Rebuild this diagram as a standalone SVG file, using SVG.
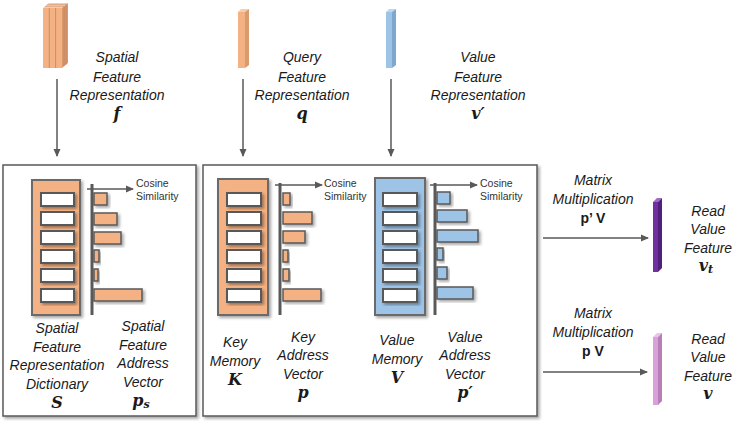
<svg xmlns="http://www.w3.org/2000/svg" width="741" height="421" viewBox="0 0 741 421">
<defs>
<filter id="sh" x="-20%" y="-20%" width="150%" height="150%"><feDropShadow dx="2" dy="2" stdDeviation="1.5" flood-color="#000" flood-opacity="0.35"/></filter>
<marker id="ah" markerWidth="8" markerHeight="8" refX="7" refY="4" orient="auto" markerUnits="userSpaceOnUse"><path d="M0,0.5 L8,4 L0,7.5 Z" fill="#595959"/></marker>
</defs>
<style>
.lbl{font-family:"Liberation Sans",Arial,sans-serif;font-style:italic;font-size:14px;fill:#1a1a1a;text-anchor:middle}
.m{font-family:"DejaVu Serif","Liberation Serif",serif;font-style:italic;font-weight:bold;font-size:16px;fill:#1a1a1a;text-anchor:middle}
.mb{font-family:"Liberation Sans",Arial,sans-serif;font-weight:bold;font-size:14px;fill:#1a1a1a;text-anchor:middle}
.cs{font-family:"Liberation Sans",Arial,sans-serif;font-size:10.5px;fill:#333}
.frame{fill:#fff;stroke:#595959;stroke-width:1.5;filter:url(#sh)}
.dictO{fill:#F4B183;stroke:#6b6b6b;stroke-width:2;filter:url(#sh)}
.dictB{fill:#9DC3E6;stroke:#6b6b6b;stroke-width:2;filter:url(#sh)}
.slot{fill:#fff;stroke:#595959;stroke-width:2;filter:url(#sh)}
.barO{fill:#F4B183;stroke:#595959;stroke-width:1.5;filter:url(#sh)}
.barB{fill:#9DC3E6;stroke:#595959;stroke-width:1.5;filter:url(#sh)}
.axis{stroke:#595959;stroke-width:3}
.conn{stroke:#595959;stroke-width:1.5;fill:none;marker-end:url(#ah)}
</style>

<!-- input features -->
<g id="spatial-feature">
<polygon points="43,8 49,3 68,3 62,8" fill="#F8CBAD"/>
<polygon points="62,8 68,3 68,63 62,68" fill="#D99A6C"/>
<rect x="43" y="8" width="19" height="60" fill="#F4B183"/>
<line x1="49.3" y1="8" x2="49.3" y2="68" stroke="#C98F68" stroke-width="1"/>
<line x1="55.6" y1="8" x2="55.6" y2="68" stroke="#C98F68" stroke-width="1"/>
<line x1="45" y1="6.3" x2="64" y2="6.3" stroke="#D9A07A" stroke-width="0.8"/>
<line x1="47" y1="4.6" x2="66" y2="4.6" stroke="#D9A07A" stroke-width="0.8"/>
<line x1="64" y1="6.3" x2="64" y2="66" stroke="#C08060" stroke-width="0.8"/>
<line x1="66" y1="4.6" x2="66" y2="64.5" stroke="#C08060" stroke-width="0.8"/>
<text class="lbl" x="117" y="62">Spatial</text>
<text class="lbl" x="117" y="82">Feature</text>
<text class="lbl" x="117" y="100">Representation</text>
<text class="m" x="117" y="119">f</text>
</g>

<g id="query-feature">
<polygon points="238,12 241,9 249,9 245,12" fill="#F8CBAD"/>
<polygon points="245,12 249,9 249,65 245,68" fill="#D99A6C"/>
<rect x="238" y="12" width="7" height="56" fill="#F4B183"/>
<text class="lbl" x="302" y="62">Query</text>
<text class="lbl" x="302" y="82">Feature</text>
<text class="lbl" x="302" y="100">Representation</text>
<text class="m" x="302" y="119">q</text>
</g>

<g id="value-feature">
<polygon points="386,12 389,9 396,9 392,12" fill="#BDD7EE"/>
<polygon points="392,12 396,9 396,65 392,68" fill="#7FA8CF"/>
<rect x="386" y="12" width="6" height="56" fill="#9DC3E6"/>
<text class="lbl" x="478" y="62">Value</text>
<text class="lbl" x="478" y="82">Feature</text>
<text class="lbl" x="478" y="100">Representation</text>
<text class="m" x="478" y="119">v′</text>
</g>

<!-- frames -->
<g id="frame-left"><rect class="frame" x="3" y="165" width="193" height="251"/></g>
<g id="frame-mid"><rect class="frame" x="203" y="165" width="334" height="251"/></g>

<!-- spatial dictionary -->
<g id="spatial-dictionary">
<rect class="dictO" x="32" y="180" width="48" height="135"/>
<rect class="slot" x="41" y="193" width="33" height="13"/>
<rect class="slot" x="41" y="212" width="33" height="13"/>
<rect class="slot" x="41" y="231" width="33" height="13"/>
<rect class="slot" x="41" y="250" width="33" height="13"/>
<rect class="slot" x="41" y="269" width="33" height="13"/>
<rect class="slot" x="41" y="289" width="33" height="13"/>
<text class="lbl" x="57" y="333">Spatial</text>
<text class="lbl" x="57" y="352">Feature</text>
<text class="lbl" x="57" y="370">Representation</text>
<text class="lbl" x="57" y="389">Dictionary</text>
<text class="m" x="57" y="408">S</text>
</g>

<g id="spatial-address">
<rect class="barO" x="94" y="193" width="13" height="12"/>
<rect class="barO" x="94" y="213" width="23" height="12"/>
<rect class="barO" x="94" y="232" width="27" height="12"/>
<rect class="barO" x="94" y="250" width="5" height="12"/>
<rect class="barO" x="94" y="269" width="4" height="12"/>
<rect class="barO" x="94" y="289" width="48" height="12"/>
<line class="axis" x1="92" y1="184" x2="92" y2="315"/>
<text class="cs" x="136" y="187">Cosine</text>
<text class="cs" x="136" y="200">Similarity</text>
<text class="lbl" x="143" y="331">Spatial</text>
<text class="lbl" x="143" y="350">Feature</text>
<text class="lbl" x="143" y="368">Address</text>
<text class="lbl" x="143" y="387">Vector</text>
<text class="m" x="141" y="406">p<tspan font-size="11" dy="2">s</tspan></text>
</g>

<!-- key memory -->
<g id="key-memory">
<rect class="dictO" x="218" y="179" width="50" height="136"/>
<rect class="slot" x="227" y="193" width="34" height="13"/>
<rect class="slot" x="227" y="212" width="34" height="13"/>
<rect class="slot" x="227" y="231" width="34" height="13"/>
<rect class="slot" x="227" y="250" width="34" height="13"/>
<rect class="slot" x="227" y="269" width="34" height="13"/>
<rect class="slot" x="227" y="289" width="34" height="13"/>
<text class="lbl" x="235" y="347">Key</text>
<text class="lbl" x="235" y="366">Memory</text>
<text class="m" x="235" y="385">K</text>
</g>

<g id="key-address">
<rect class="barO" x="283" y="193" width="7" height="12"/>
<rect class="barO" x="283" y="212" width="29" height="12"/>
<rect class="barO" x="283" y="231" width="22" height="12"/>
<rect class="barO" x="283" y="250" width="5" height="12"/>
<rect class="barO" x="283" y="269" width="6" height="12"/>
<rect class="barO" x="283" y="289" width="38" height="12"/>
<line class="axis" x1="280" y1="183" x2="280" y2="315"/>
<text class="cs" x="324" y="187">Cosine</text>
<text class="cs" x="324" y="200">Similarity</text>
<text class="lbl" x="303" y="342">Key</text>
<text class="lbl" x="303" y="360">Address</text>
<text class="lbl" x="303" y="379">Vector</text>
<text class="m" x="303" y="398">p</text>
</g>

<!-- value memory -->
<g id="value-memory">
<rect class="dictB" x="375" y="178" width="50" height="137"/>
<rect class="slot" x="383" y="193" width="34" height="13"/>
<rect class="slot" x="383" y="212" width="34" height="13"/>
<rect class="slot" x="383" y="231" width="34" height="13"/>
<rect class="slot" x="383" y="250" width="34" height="13"/>
<rect class="slot" x="383" y="269" width="34" height="13"/>
<rect class="slot" x="383" y="289" width="34" height="13"/>
<text class="lbl" x="397" y="345">Value</text>
<text class="lbl" x="397" y="364">Memory</text>
<text class="m" x="397" y="383">V</text>
</g>

<g id="value-address">
<rect class="barB" x="437" y="192" width="13" height="12"/>
<rect class="barB" x="437" y="210" width="30" height="12"/>
<rect class="barB" x="437" y="230" width="41" height="12"/>
<rect class="barB" x="437" y="248" width="6" height="12"/>
<rect class="barB" x="437" y="267" width="10" height="12"/>
<rect class="barB" x="437" y="287" width="36" height="12"/>
<line class="axis" x1="435" y1="183" x2="435" y2="315"/>
<text class="cs" x="480" y="187">Cosine</text>
<text class="cs" x="480" y="200">Similarity</text>
<text class="lbl" x="465" y="342">Value</text>
<text class="lbl" x="465" y="360">Address</text>
<text class="lbl" x="465" y="379">Vector</text>
<text class="m" x="465" y="398">p′</text>
</g>

<!-- outputs -->
<g id="read-value-t">
<polygon points="653,202 657,198 662,198 658,202" fill="#9B6CC4"/>
<polygon points="658,202 662,198 662,268 658,272" fill="#52207A"/>
<rect x="653" y="202" width="5" height="70" fill="#7030A0"/>
<text class="lbl" x="708" y="216">Read</text>
<text class="lbl" x="708" y="234">Value</text>
<text class="lbl" x="708" y="253">Feature</text>
<text class="m" x="706" y="271">v<tspan font-size="11" dy="2">t</tspan></text>
</g>

<g id="read-value">
<polygon points="653,337 657,333 662,333 658,337" fill="#EBC3EB"/>
<polygon points="658,337 662,333 662,401 658,405" fill="#B77FB7"/>
<rect x="653" y="337" width="5" height="68" fill="#D9A0D9"/>
<text class="lbl" x="708" y="344">Read</text>
<text class="lbl" x="708" y="362">Value</text>
<text class="lbl" x="708" y="381">Feature</text>
<text class="m" x="708" y="399">v</text>
</g>

<g id="matmul-labels">
<text class="lbl" x="593" y="185">Matrix</text>
<text class="lbl" x="593" y="204">Multiplication</text>
<text class="mb" x="593" y="223">p’ V</text>
<text class="lbl" x="593" y="318">Matrix</text>
<text class="lbl" x="593" y="337">Multiplication</text>
<text class="mb" x="593" y="356">p V</text>
</g>

<!-- connectors -->
<g id="connectors">
<line class="conn" x1="57" y1="79" x2="57" y2="156"/>
<line class="conn" x1="243" y1="79" x2="243" y2="156"/>
<line class="conn" x1="391" y1="79" x2="391" y2="156"/>
<line class="conn" x1="87" y1="189" x2="133" y2="189"/>
<line class="conn" x1="275" y1="185" x2="322" y2="185"/>
<line class="conn" x1="430" y1="185" x2="477" y2="185"/>
<line class="conn" x1="543" y1="238" x2="648" y2="238"/>
<line class="conn" x1="543" y1="372" x2="647" y2="372"/>
</g>
</svg>
